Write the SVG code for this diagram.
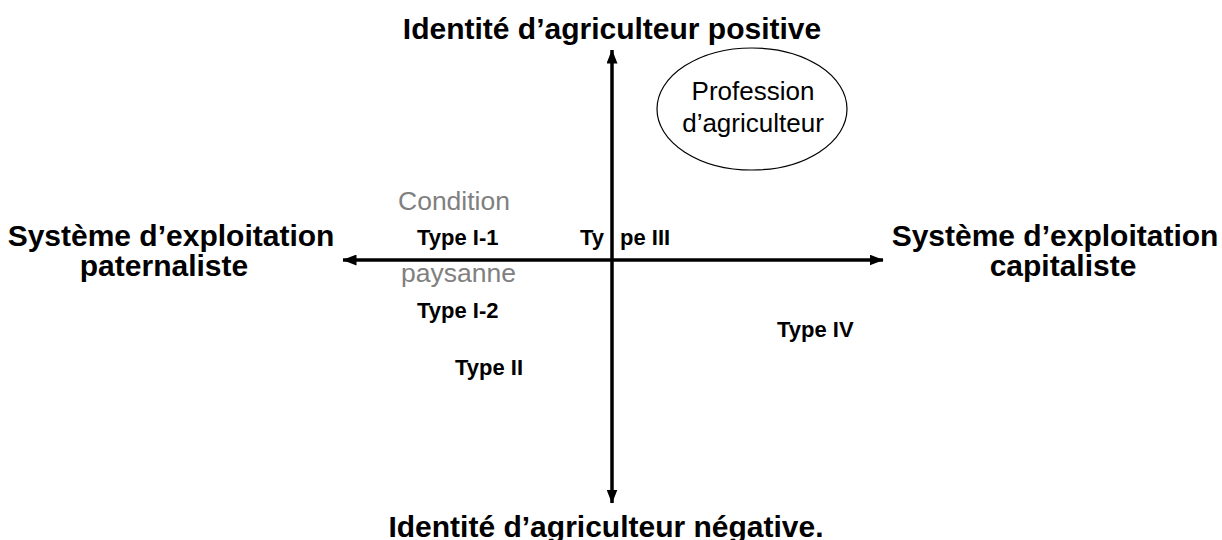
<svg xmlns="http://www.w3.org/2000/svg" width="1222" height="540" viewBox="0 0 1222 540">
<defs>
<style>
.t{font-family:"Liberation Sans",Arial,sans-serif;font-weight:bold;font-size:30px;fill:#000;text-anchor:middle}
.ty{font-family:"Liberation Sans",Arial,sans-serif;font-weight:bold;font-size:22px;fill:#000}
.g{font-family:"Liberation Sans",Arial,sans-serif;font-size:26.5px;fill:#808080}
.e{font-family:"Liberation Sans",Arial,sans-serif;font-size:26px;fill:#000;text-anchor:middle}
.ax{stroke:#000;stroke-width:3.5;fill:none}
</style>
<marker id="ah" viewBox="0 0 14 11" refX="13.5" refY="5.5" markerWidth="14" markerHeight="11" markerUnits="userSpaceOnUse" orient="auto">
<path d="M0,0 L14,5.5 L0,11 Z" fill="#000"/>
</marker>
</defs>
<rect width="1222" height="540" fill="#fff"/>
<g id="connectors">
<line class="ax" x1="612" y1="260" x2="612" y2="50" marker-end="url(#ah)"/>
<line class="ax" x1="612" y1="260" x2="612" y2="503" marker-end="url(#ah)"/>
<line class="ax" x1="612" y1="260" x2="343" y2="260" marker-end="url(#ah)"/>
<line class="ax" x1="612" y1="260" x2="883" y2="260" marker-end="url(#ah)"/>
</g>
<g id="top-label"><text class="t" x="612" y="39">Identité d’agriculteur positive</text></g>
<g id="bottom-label"><text class="t" x="606" y="537">Identité d’agriculteur négative.</text></g>
<g id="left-label"><text class="t" x="171" y="246">Système d’exploitation</text><text class="t" x="164" y="276">paternaliste</text></g>
<g id="right-label"><text class="t" x="1055" y="246">Système d’exploitation</text><text class="t" x="1063" y="276">capitaliste</text></g>
<g id="profession"><ellipse cx="752" cy="109" rx="95" ry="61" fill="#fff" stroke="#000" stroke-width="1.2"/><text class="e" x="753" y="100">Profession</text><text class="e" x="753" y="132">d’agriculteur</text></g>
<g id="condition"><text class="g" x="398" y="210">Condition</text><text class="g" x="401" y="282">paysanne</text></g>
<g id="type-i-1"><text class="ty" x="417" y="245">Type I-1</text></g>
<g id="type-iii"><text class="ty" y="245"><tspan x="580">Ty</tspan><tspan x="620">pe III</tspan></text></g>
<g id="type-i-2"><text class="ty" x="417" y="318">Type I-2</text></g>
<g id="type-ii"><text class="ty" x="455" y="375">Type II</text></g>
<g id="type-iv"><text class="ty" x="777" y="337">Type IV</text></g>
</svg>
